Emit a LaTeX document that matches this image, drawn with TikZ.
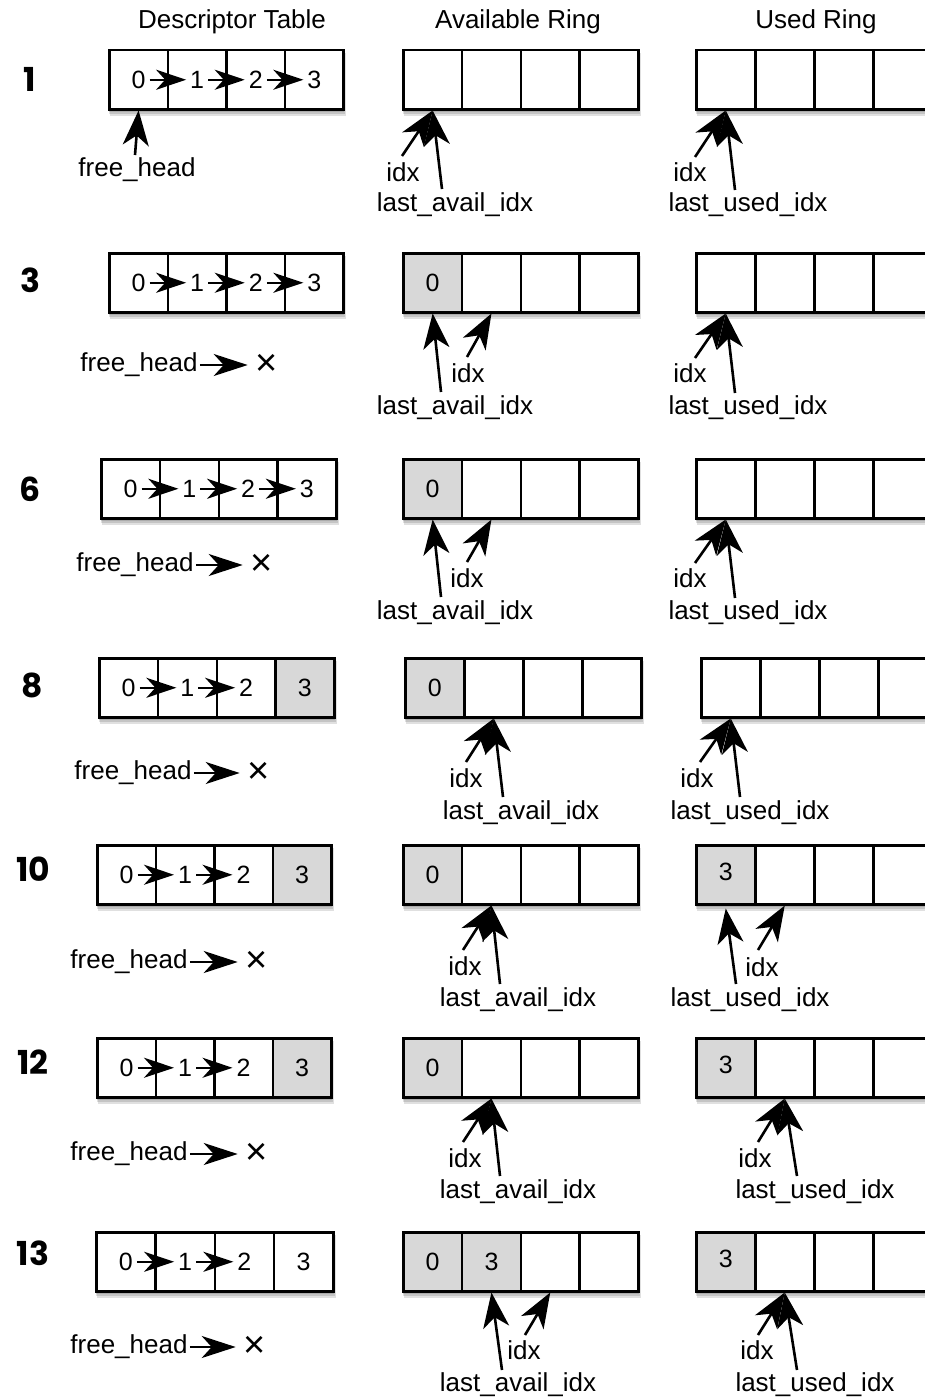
\documentclass[tikz,border=0pt]{standalone}
\usepackage{fontspec}
\setmainfont{Liberation Sans}
\newfontfamily\stepfont{Poppins}
\usetikzlibrary{arrows.meta}
\definecolor{cellgray}{HTML}{D8D8D8}
\tikzset{
  cell/.style={draw=black, line width=2.5pt, anchor=north west, minimum height=59pt, inner sep=0pt, font=\fontsize{25}{28}\selectfont},
  lbl/.style={inner sep=0pt, font=\fontsize{26}{30}\selectfont},
  crossmark/.style={inner sep=0pt, font=\fontsize{38}{40}\selectfont},
  steplbl/.style={inner sep=0pt, font=\stepfont\bfseries\fontsize{33}{36}\selectfont},
  ptr/.style={line width=2.6pt, -{Stealth[length=35pt,width=26pt,inset=10pt]}},
  link/.style={line width=2.4pt, -{Stealth[length=30pt,width=20pt,inset=9pt]}},
  nullarrow/.style={line width=2.6pt, -{Stealth[length=34pt,width=22pt,inset=10pt]}},
  shade/.style={fill=black, opacity=0.12},
}
% #1 prefix, #2 left x, #3 top y, #4 cell width, #5 list fill/text
\newcommand\mkcells[5]{%
  \fill[shade] (#2+1,#3+4) rectangle (#2+4*#4+2,#3+63);
  \fill[shade] (#2+1,#3+4) rectangle (#2+4*#4+3,#3+65);
  \fill[shade] (#2+2,#3+4) rectangle (#2+4*#4+4,#3+67);
  \foreach[count=\i from 0] \f/\t in {#5} {
    \node[cell, fill=\f, minimum width=#4 pt] (#1\i) at (#2+\i*#4,#3) {\t};
  }%
}
\newcommand\up[1]{\raisebox{5pt}{#1}}
\begin{document}
\begin{tikzpicture}[x=1pt,y=-1pt]
\useasboundingbox (0,0) rectangle (925,1397);
\fill[white] (0,0) rectangle (925,1397);
\clip (0,0) rectangle (925,1397);

% headers
\node[lbl] (hD) at (232,22) {Descriptor Table};
\node[lbl] (hA) at (518,22) {Available Ring};
\node[lbl] (hU) at (816,22) {Used Ring};

% ---------------- step 1
\node[steplbl] (s1) at (30,79) {1};
\mkcells{aD}{108}{49}{58.6}{white/0,white/1,white/2,white/3}
\mkcells{aA}{402}{49}{58.8}{white/,white/,white/,white/}
\mkcells{aU}{695}{49}{59}{white/,white/,white/,white/}
\draw[link] ([xshift=11pt]aD0.center) -- ([xshift=-11pt]aD1.center);
\draw[link] ([xshift=11pt]aD1.center) -- ([xshift=-11pt]aD2.center);
\draw[link] ([xshift=11pt]aD2.center) -- ([xshift=-11pt]aD3.center);
\node[lbl] (aFH) at (137,170) {free\_head};
\coordinate (aFHt) at (135,155);
\draw[ptr] (aFHt) -- (aD0.south);
\node[lbl] (aAi) at (403,172) {idx};
\coordinate (aAit) at (402,156);
\draw[ptr] (aAit) -- (aA0.south);
\node[lbl] (aAl) at (455,205) {last\_avail\_idx};
\coordinate (aAlt) at (442,189);
\draw[ptr] (aAlt) -- (aA0.south);
\node[lbl] (aUi) at (690,172) {idx};
\coordinate (aUit) at (695,157);
\draw[ptr] (aUit) -- (aU0.south);
\node[lbl] (aUl) at (748,205) {last\_used\_idx};
\coordinate (aUlt) at (735,190);
\draw[ptr] (aUlt) -- (aU0.south);

% ---------------- step 3
\node[steplbl] (s3) at (30,280) {3};
\mkcells{bD}{108}{252}{58.6}{white/0,white/1,white/2,white/3}
\mkcells{bA}{402}{252}{58.8}{cellgray/0,white/,white/,white/}
\mkcells{bU}{695}{252}{59}{white/,white/,white/,white/}
\draw[link] ([xshift=11pt]bD0.center) -- ([xshift=-11pt]bD1.center);
\draw[link] ([xshift=11pt]bD1.center) -- ([xshift=-11pt]bD2.center);
\draw[link] ([xshift=11pt]bD2.center) -- ([xshift=-11pt]bD3.center);
\node[lbl] (bFH) at (139,365) {free\_head};
\node[crossmark] (bX) at (267,365) {×};
\draw[nullarrow] ([xshift=2pt]bFH.east) -- ([xshift=-8pt]bX.west);
\node[lbl] (bAl) at (455,408) {last\_avail\_idx};
\coordinate (bAlt) at (441,392);
\draw[ptr] (bAlt) -- (bA0.south);
\node[lbl] (bAi) at (468,373) {idx};
\coordinate (bAit) at (467,357);
\draw[ptr] (bAit) -- (bA1.south);
\node[lbl] (bUi) at (690,373) {idx};
\coordinate (bUit) at (695,358);
\draw[ptr] (bUit) -- (bU0.south);
\node[lbl] (bUl) at (748,408) {last\_used\_idx};
\coordinate (bUlt) at (735,393);
\draw[ptr] (bUlt) -- (bU0.south);

% ---------------- step 6
\node[steplbl] (s6) at (30,489) {6};
\mkcells{cD}{100}{458}{58.75}{white/0,white/1,white/2,white/3}
\mkcells{cA}{402}{458}{58.8}{cellgray/0,white/,white/,white/}
\mkcells{cU}{695}{458}{59}{white/,white/,white/,white/}
\draw[link] ([xshift=11pt]cD0.center) -- ([xshift=-11pt]cD1.center);
\draw[link] ([xshift=11pt]cD1.center) -- ([xshift=-11pt]cD2.center);
\draw[link] ([xshift=11pt]cD2.center) -- ([xshift=-11pt]cD3.center);
\node[lbl] (cFH) at (135,565) {free\_head};
\node[crossmark] (cX) at (262,565) {×};
\draw[nullarrow] ([xshift=2pt]cFH.east) -- ([xshift=-8pt]cX.west);
\node[lbl] (cAl) at (455,613) {last\_avail\_idx};
\coordinate (cAlt) at (441,597);
\draw[ptr] (cAlt) -- (cA0.south);
\node[lbl] (cAi) at (467,578) {idx};
\coordinate (cAit) at (467,562);
\draw[ptr] (cAit) -- (cA1.south);
\node[lbl] (cUi) at (690,578) {idx};
\coordinate (cUit) at (695,563);
\draw[ptr] (cUit) -- (cU0.south);
\node[lbl] (cUl) at (748,613) {last\_used\_idx};
\coordinate (cUlt) at (735,598);
\draw[ptr] (cUlt) -- (cU0.south);

% ---------------- step 8
\node[steplbl] (s8) at (32,685) {8};
\mkcells{dD}{98}{657}{58.75}{white/0,white/1,white/2,cellgray/3}
\mkcells{dA}{404}{657}{59}{cellgray/0,white/,white/,white/}
\mkcells{dU}{700}{657}{59}{white/,white/,white/,white/}
\draw[link] ([xshift=11pt]dD0.center) -- ([xshift=-11pt]dD1.center);
\draw[link] ([xshift=11pt]dD1.center) -- ([xshift=-11pt]dD2.center);
\node[lbl] (dFH) at (133,773) {free\_head};
\node[crossmark] (dX) at (259,773) {×};
\draw[nullarrow] ([xshift=2pt]dFH.east) -- ([xshift=-8pt]dX.west);
\node[lbl] (dAi) at (466,778) {idx};
\coordinate (dAit) at (466,762);
\draw[ptr] (dAit) -- (dA1.south);
\node[lbl] (dAl) at (521,813) {last\_avail\_idx};
\coordinate (dAlt) at (503,797);
\draw[ptr] (dAlt) -- (dA1.south);
\node[lbl] (dUi) at (697,778) {idx};
\coordinate (dUit) at (700,762);
\draw[ptr] (dUit) -- (dU0.south);
\node[lbl] (dUl) at (750,813) {last\_used\_idx};
\coordinate (dUlt) at (740,797);
\draw[ptr] (dUlt) -- (dU0.south);

% ---------------- step 10
\node[steplbl] (s10) at (33,869) {10};
\mkcells{eD}{96}{844}{58.5}{white/0,white/1,white/2,cellgray/3}
\mkcells{eA}{402}{844}{58.8}{cellgray/0,white/,white/,white/}
\mkcells{eU}{695}{844}{59}{cellgray/\up{3},white/,white/,white/}
\draw[link] ([xshift=11pt]eD0.center) -- ([xshift=-11pt]eD1.center);
\draw[link] ([xshift=11pt]eD1.center) -- ([xshift=-11pt]eD2.center);
\node[lbl] (eFH) at (129,962) {free\_head};
\node[crossmark] (eX) at (257,962) {×};
\draw[nullarrow] ([xshift=2pt]eFH.east) -- ([xshift=-8pt]eX.west);
\node[lbl] (eAi) at (465,966) {idx};
\coordinate (eAit) at (463,950);
\draw[ptr] (eAit) -- (eA1.south);
\node[lbl] (eAl) at (518,1000) {last\_avail\_idx};
\coordinate (eAlt) at (500,984);
\draw[ptr] (eAlt) -- (eA1.south);
\node[lbl] (eUl) at (750,1000) {last\_used\_idx};
\coordinate (eUlt) at (736,984);
\draw[ptr] (eUlt) -- ([yshift=-3pt]eU0.south);
\node[lbl] (eUi) at (762,967) {idx};
\coordinate (eUit) at (758,950);
\draw[ptr] (eUit) -- (eU1.south);

% ---------------- step 12
\node[steplbl] (s12) at (33,1062) {12};
\mkcells{fD}{96}{1037}{58.5}{white/0,white/1,white/2,cellgray/3}
\mkcells{fA}{402}{1037}{58.8}{cellgray/0,white/,white/,white/}
\mkcells{fU}{695}{1037}{59}{cellgray/\up{3},white/,white/,white/}
\draw[link] ([xshift=11pt]fD0.center) -- ([xshift=-11pt]fD1.center);
\draw[link] ([xshift=11pt]fD1.center) -- ([xshift=-11pt]fD2.center);
\node[lbl] (fFH) at (129,1154) {free\_head};
\node[crossmark] (fX) at (257,1154) {×};
\draw[nullarrow] ([xshift=2pt]fFH.east) -- ([xshift=-8pt]fX.west);
\node[lbl] (fAi) at (465,1158) {idx};
\coordinate (fAit) at (463,1142);
\draw[ptr] (fAit) -- (fA1.south);
\node[lbl] (fAl) at (518,1192) {last\_avail\_idx};
\coordinate (fAlt) at (500,1176);
\draw[ptr] (fAlt) -- (fA1.south);
\node[lbl] (fUi) at (755,1158) {idx};
\coordinate (fUit) at (758,1142);
\draw[ptr] (fUit) -- (fU1.south);
\node[lbl] (fUl) at (815,1192) {last\_used\_idx};
\coordinate (fUlt) at (797,1176);
\draw[ptr] (fUlt) -- (fU1.south);

% ---------------- step 13
\node[steplbl] (s13) at (33,1253) {13};
\mkcells{gD}{95}{1231}{59.25}{white/0,white/1,white/2,white/3}
\mkcells{gA}{402}{1231}{58.8}{cellgray/0,cellgray/3,white/,white/}
\mkcells{gU}{695}{1231}{59}{cellgray/\up{3},white/,white/,white/}
\draw[link] ([xshift=11pt]gD0.center) -- ([xshift=-11pt]gD1.center);
\draw[link] ([xshift=11pt]gD1.center) -- ([xshift=-11pt]gD2.center);
\node[lbl] (gFH) at (129,1347) {free\_head};
\node[crossmark] (gX) at (255,1347) {×};
\draw[nullarrow] ([xshift=2pt]gFH.east) -- ([xshift=-8pt]gX.west);
\node[lbl] (gAl) at (518,1385) {last\_avail\_idx};
\coordinate (gAlt) at (502,1370);
\draw[ptr] (gAlt) -- (gA1.south);
\node[lbl] (gAi) at (524,1350) {idx};
\coordinate (gAit) at (525,1335);
\draw[ptr] (gAit) -- (gA2.south);
\node[lbl] (gUi) at (757,1350) {idx};
\coordinate (gUit) at (758,1335);
\draw[ptr] (gUit) -- (gU1.south);
\node[lbl] (gUl) at (815,1385) {last\_used\_idx};
\coordinate (gUlt) at (797,1370);
\draw[ptr] (gUlt) -- (gU1.south);
\end{tikzpicture}
\end{document}
